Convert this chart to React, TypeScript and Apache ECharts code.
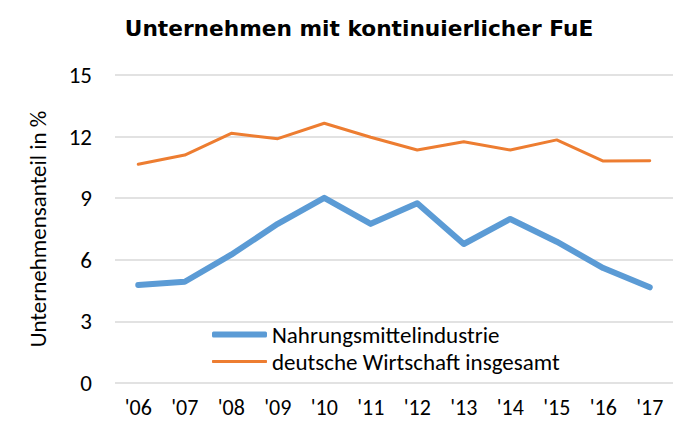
import React, { useEffect, useRef } from "react";
import * as echarts from "echarts";

const years = ["'06", "'07", "'08", "'09", "'10", "'11", "'12", "'13", "'14", "'15", "'16", "'17"];
const nahrung = [4.77, 4.93, 6.25, 7.75, 9.02, 7.75, 8.75, 6.77, 7.99, 6.88, 5.6, 4.66];
const gesamt = [10.65, 11.1, 12.16, 11.9, 12.65, 11.97, 11.35, 11.75, 11.35, 11.84, 10.81, 10.82];
const seriesNames = ["Nahrungsmittelindustrie", "deutsche Wirtschaft insgesamt"];
const titleText = "Unternehmen mit kontinuierlicher FuE";
const yAxisName = "Unternehmensanteil in %";

export default function App() {
  const ref = useRef<HTMLDivElement>(null);
  useEffect(() => {
    if (!ref.current) return;
    const chart = echarts.init(ref.current, null, { renderer: "svg" });
    const font = "Carlito, 'Liberation Sans', 'Open Sans', sans-serif";
    const legendText = { fontFamily: font, fontSize: 23, color: "#000" };
    chart.setOption({
      animation: false,
      backgroundColor: "#ffffff",
      title: {
        text: titleText,
        left: 354,
        textAlign: "center",
        top: 12,
        textStyle: { fontFamily: "Verdana, 'DejaVu Sans', sans-serif", fontWeight: "bold", fontSize: 21.7, color: "#000" },
      },
      grid: { left: 115, right: 9, top: 75, bottom: 39 },
      legend: [
        {
          left: 212,
          top: 323,
          padding: 0,
          icon: "roundRect",
          itemWidth: 55,
          itemHeight: 6,
          textStyle: legendText,
          data: [seriesNames[0]],
        },
        {
          left: 212,
          top: 350,
          padding: 0,
          icon: "roundRect",
          itemWidth: 55,
          itemHeight: 3,
          textStyle: legendText,
          data: [seriesNames[1]],
        },
      ],
      xAxis: {
        type: "category",
        data: years,
        boundaryGap: true,
        axisLine: { show: false },
        axisTick: { show: false },
        axisLabel: { fontFamily: font, fontSize: 22, color: "#000", margin: 13 },
      },
      yAxis: {
        type: "value",
        min: 0,
        max: 15,
        interval: 3,
        name: yAxisName,
        nameLocation: "middle",
        nameGap: 66,
        nameRotate: 90,
        nameTextStyle: { fontFamily: font, fontSize: 23, color: "#000" },
        axisLine: { show: false },
        axisTick: { show: false },
        axisLabel: { fontFamily: font, fontSize: 23, color: "#000", margin: 23 },
        splitLine: { lineStyle: { color: "#D9D9D9", width: 1.5 } },
      },
      series: [
        {
          name: seriesNames[0],
          type: "line",
          data: nahrung,
          symbol: "none",
          lineStyle: { color: "#5B9BD5", width: 6, cap: "round", join: "round" },
          itemStyle: { color: "#5B9BD5" },
        },
        {
          name: seriesNames[1],
          type: "line",
          data: gesamt,
          symbol: "none",
          lineStyle: { color: "#ED7D31", width: 3, cap: "round", join: "round" },
          itemStyle: { color: "#ED7D31" },
        },
      ],
    });
    return () => chart.dispose();
  }, []);
  return <div ref={ref} style={{ width: 682, height: 422, position: "absolute", left: 0, top: 0 }} />;
}
